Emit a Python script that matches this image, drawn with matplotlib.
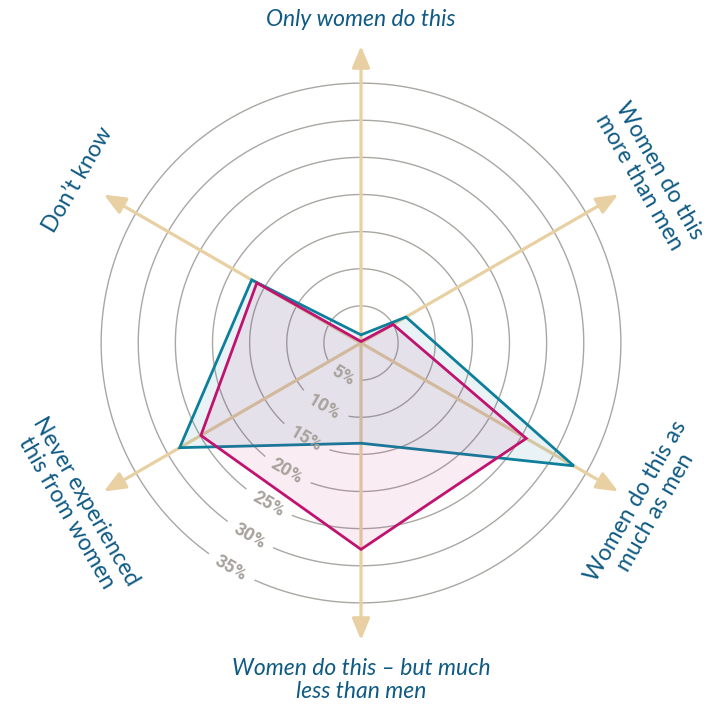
import numpy as np
import matplotlib
matplotlib.use("Agg")
import matplotlib.pyplot as plt

# categories, clockwise from the top
categories = [
    "Only women do this",
    "Women do this\nmore than men",
    "Women do this as\nmuch as men",
    "Women do this \u2013 but much\nless than men",
    "Never experienced\nthis from women",
    "Don\u2019t know",
]
angles_deg = [90, 30, -30, -90, 210, 150]

# percentages
series_teal = [1.1, 7.0, 33.1, 13.5, 28.2, 17.0]
series_magenta = [0.2, 5.0, 25.7, 27.8, 24.9, 16.2]

ring_values = [5, 10, 15, 20, 25, 30, 35]
ring_labels = ["5%", "10%", "15%", "20%", "25%", "30%", "35%"]

TEAL = "#0e7f9b"
MAGENTA = "#c0136f"
AXIS_COL = "#e8d0a2"
RING_COL = "#aaa7a3"
RLABEL_COL = "#a7a29c"
TEXT_COL = "#0f5a84"

plt.rcParams["font.family"] = ["Lato", "DejaVu Sans"]

fig = plt.figure(figsize=(7.10, 7.07), dpi=100)
ax = fig.add_axes([64 / 710, 67 / 707, 594 / 710, 594 / 707], projection="polar")
ax.set_ylim(0, 40)
ax.grid(False)
ax.set_xticks([])
ax.set_yticks([])
ax.spines["polar"].set_visible(False)
ax.patch.set_visible(False)

theta = np.deg2rad(angles_deg)
px_per_unit = 297 / 40.0
label_angle = np.deg2rad(240)

# rings with a gap where the percentage label sits
for val, lab in zip(ring_values, ring_labels):
    r_px = val * px_per_unit
    half_w = (14 if len(lab) == 2 else 22) + 5
    gap = half_w / r_px
    t = np.linspace(label_angle + gap, label_angle + 2 * np.pi - gap, 400)
    ax.plot(t, np.full_like(t, val), color=RING_COL, lw=1.0, zorder=1)

# axis arrows
for a in theta:
    ax.annotate("", xy=(a, 40), xytext=(a, 0),
                arrowprops=dict(arrowstyle="-|>,head_length=0.65,head_width=0.27",
                                mutation_scale=20, color=AXIS_COL, lw=2.3,
                                shrinkA=0, shrinkB=0),
                annotation_clip=False, zorder=2)

# series polygons
ax.fill(theta, series_teal, facecolor=(0.055, 0.5, 0.61, 0.09),
        edgecolor=TEAL, lw=2.0, zorder=3)
ax.fill(theta, series_magenta, facecolor=(0.75, 0.07, 0.44, 0.08),
        edgecolor=MAGENTA, lw=2.0, zorder=4)

# ring labels
for val, lab in zip(ring_values, ring_labels):
    ax.text(label_angle, val, lab, rotation=-30, rotation_mode="anchor",
            ha="center", va="center", fontsize=13, fontweight="bold",
            family=["Roboto", "DejaVu Sans"], color=RLABEL_COL, zorder=5)

# category labels
label_r = [43.6, 44.8, 44.2, 45.4, 44.3, 44.0]
label_rot = [0, -60, 60, 0, -60, 60]
for a, r, rot, txt in zip(theta, label_r, label_rot, categories):
    style = "italic" if rot == 0 else "normal"
    ax.text(a, r, txt, rotation=rot, rotation_mode="anchor", ha="center",
            va="center", multialignment="center", fontsize=16.5, fontstyle=style,
            color=TEXT_COL, linespacing=1.1, clip_on=False)

fig.savefig("out.png", dpi=100)
